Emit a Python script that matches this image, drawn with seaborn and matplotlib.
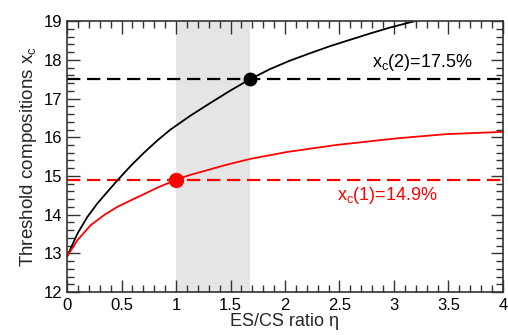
import numpy as np
import pandas as pd
import matplotlib
matplotlib.use("Agg")
import matplotlib.pyplot as plt
from matplotlib.ticker import MultipleLocator
import seaborn as sns

# Data
eta_black = [0.0, 0.095, 0.186, 0.278, 0.37, 0.46, 0.584, 0.706, 0.83, 0.95, 1.128, 1.312, 1.495, 1.68,
             1.862, 2.046, 2.23, 2.41, 2.6, 2.78, 2.96, 3.15, 3.27]
xc_black = [12.92, 13.51, 13.94, 14.29, 14.59, 14.88, 15.26, 15.6, 15.92, 16.2, 16.55, 16.88, 17.2, 17.5,
            17.76, 17.98, 18.17, 18.35, 18.52, 18.68, 18.83, 18.97, 19.05]

eta_red = [0.0, 0.095, 0.217, 0.34, 0.46, 0.584, 0.706, 0.83, 1.0, 1.12, 1.25, 1.45, 1.68, 2.02, 2.47, 3.02, 3.48, 4.0]
xc_red = [12.92, 13.34, 13.73, 13.99, 14.2, 14.37, 14.53, 14.7, 14.9, 15.02, 15.12, 15.28, 15.44, 15.62, 15.8, 15.97, 16.08, 16.14]

xc1 = 14.9
xc2 = 17.5
eta1 = 1.0
eta2 = 1.68
band = [1.0, 1.68]
label1 = r"x$_\mathregular{c}$(1)=14.9%"
label2 = r"x$_\mathregular{c}$(2)=17.5%"
xlabel = "ES/CS ratio η"
ylabel = r"Threshold compositions x$_\mathregular{c}$"
xtick_labels = ['0', '0.5', '1', '1.5', '2', '2.5', '3', '3.5', '4']

sns.set_style("ticks")
plt.rcParams['font.family'] = ['Liberation Sans', 'DejaVu Sans']
plt.rcParams['mathtext.fontset'] = 'custom'
plt.rcParams['mathtext.rm'] = 'Liberation Sans'

fig = plt.figure(figsize=(5.08, 3.35), dpi=100)
ax = fig.add_axes([0.132, 0.128, 0.858, 0.809])

ax.axvspan(band[0], band[1], color='#e5e5e5', lw=0, zorder=0)
ax.axhline(xc2, color='black', lw=1.6, dashes=(6, 3), zorder=1)
ax.axhline(xc1, color='red', lw=1.6, dashes=(6, 3), zorder=1)

df_b = pd.DataFrame({'eta': eta_black, 'xc': xc_black})
df_r = pd.DataFrame({'eta': eta_red, 'xc': xc_red})
sns.lineplot(data=df_b, x='eta', y='xc', color='black', lw=1.3, ax=ax, zorder=2)
sns.lineplot(data=df_r, x='eta', y='xc', color='red', lw=1.3, ax=ax, zorder=2)

ax.plot([eta2], [xc2], 'o', color='black', ms=9, zorder=3, clip_on=False)
ax.plot([eta1], [xc1], 'o', color='red', ms=10, zorder=3, clip_on=False)

ax.text(2.8, 17.93, label2, color='black', fontsize=13, va='center', ha='left')
ax.text(2.48, 14.5, label1, color='red', fontsize=13, va='center', ha='left')

ax.set_xlim(0, 4)
ax.set_ylim(12, 19)
ax.set_xticks([float(t) for t in xtick_labels])
ax.set_xticklabels(xtick_labels)
ax.xaxis.set_minor_locator(MultipleLocator(0.1))
ax.yaxis.set_major_locator(MultipleLocator(1))
ax.yaxis.set_minor_locator(MultipleLocator(0.2))
ax.tick_params(which='both', direction='in', top=True, right=True, colors='#333333', labelcolor='black', labelsize=12)
ax.tick_params(which='major', length=9, width=1)
ax.tick_params(which='minor', length=5, width=1)
ax.tick_params(axis='x', pad=4)
for s in ax.spines.values():
    s.set_color('#333333')
    s.set_linewidth(1.2)

ax.set_xlabel(xlabel, fontsize=13, labelpad=0)
ax.set_ylabel(ylabel, fontsize=13.5, labelpad=3)

fig.savefig('out.png', dpi=100)
